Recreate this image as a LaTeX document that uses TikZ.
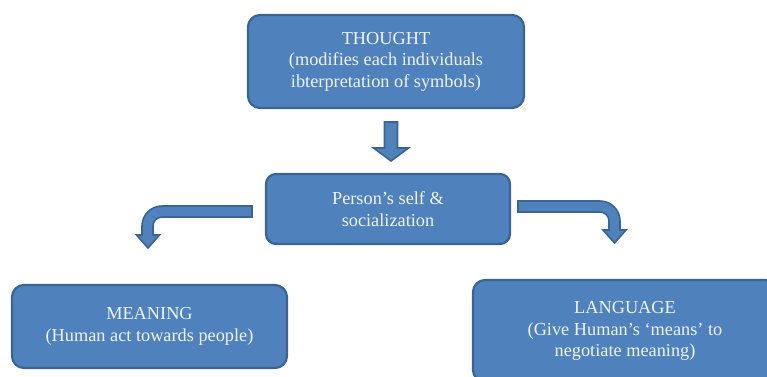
\documentclass[tikz,border=0pt]{standalone}
\usepackage{fontspec}
\setmainfont{Liberation Serif}
\definecolor{boxfill}{HTML}{4F81BD}
\definecolor{boxline}{HTML}{3A6494}
\definecolor{boxtext}{HTML}{EEF2F9}
\begin{document}
\begin{tikzpicture}[x=1pt,y=-1pt,
  concept/.style={rectangle, rounded corners=12pt, fill=boxfill, draw=boxline,
    line width=2.2pt, text=boxtext, align=center, inner sep=0pt,
    font=\fontsize{18.3pt}{21.5pt}\selectfont},
  blockarrow/.style={fill=boxfill, draw=boxline, line width=1.6pt, line join=miter}]
\useasboundingbox (0,0) rectangle (767,376);
\clip (0,0) rectangle (767,376);

% concept boxes
\node[concept, minimum width=276pt, minimum height=93pt] (thought) at (386,61.5)
  {THOUGHT\\(modifies each individuals\\ibterpretation of symbols)};
\node[concept, rounded corners=10pt, minimum width=244pt, minimum height=70pt] (self) at (388,209)
  {Person’s self \&\\socialization};
\node[concept, minimum width=275pt, minimum height=83pt] (meaning) at (149.5,326.5)
  {MEANING\\(Human act towards people)};
\node[concept, minimum width=304pt, minimum height=102pt] (language) at (625,331)
  {LANGUAGE\\(Give Human’s ‘means’ to\\negotiate meaning)};

% straight block arrow from the thought box down to the self box
\draw[blockarrow] (384.5,122) -- (397.5,122) -- (397.5,148) -- (408.5,148)
  -- (391,161) -- (373.5,148) -- (384.5,148) -- cycle;

% bent block arrow towards the meaning box
\draw[blockarrow] (252,206) -- (162,206) arc (-90:-180:20) -- (142,235)
  -- (136.5,235) -- (148,248) -- (159.5,235) -- (153,235) -- (153,226)
  arc (180:270:9) -- (252,217) -- cycle;

% bent block arrow towards the language box
\draw[blockarrow] (518,201) -- (600,201) arc (-90:0:20) -- (620,230)
  -- (626,230) -- (614.5,243) -- (603,230) -- (609,230) -- (609,221)
  arc (0:-90:9) -- (518,212) -- cycle;
\end{tikzpicture}
\end{document}
